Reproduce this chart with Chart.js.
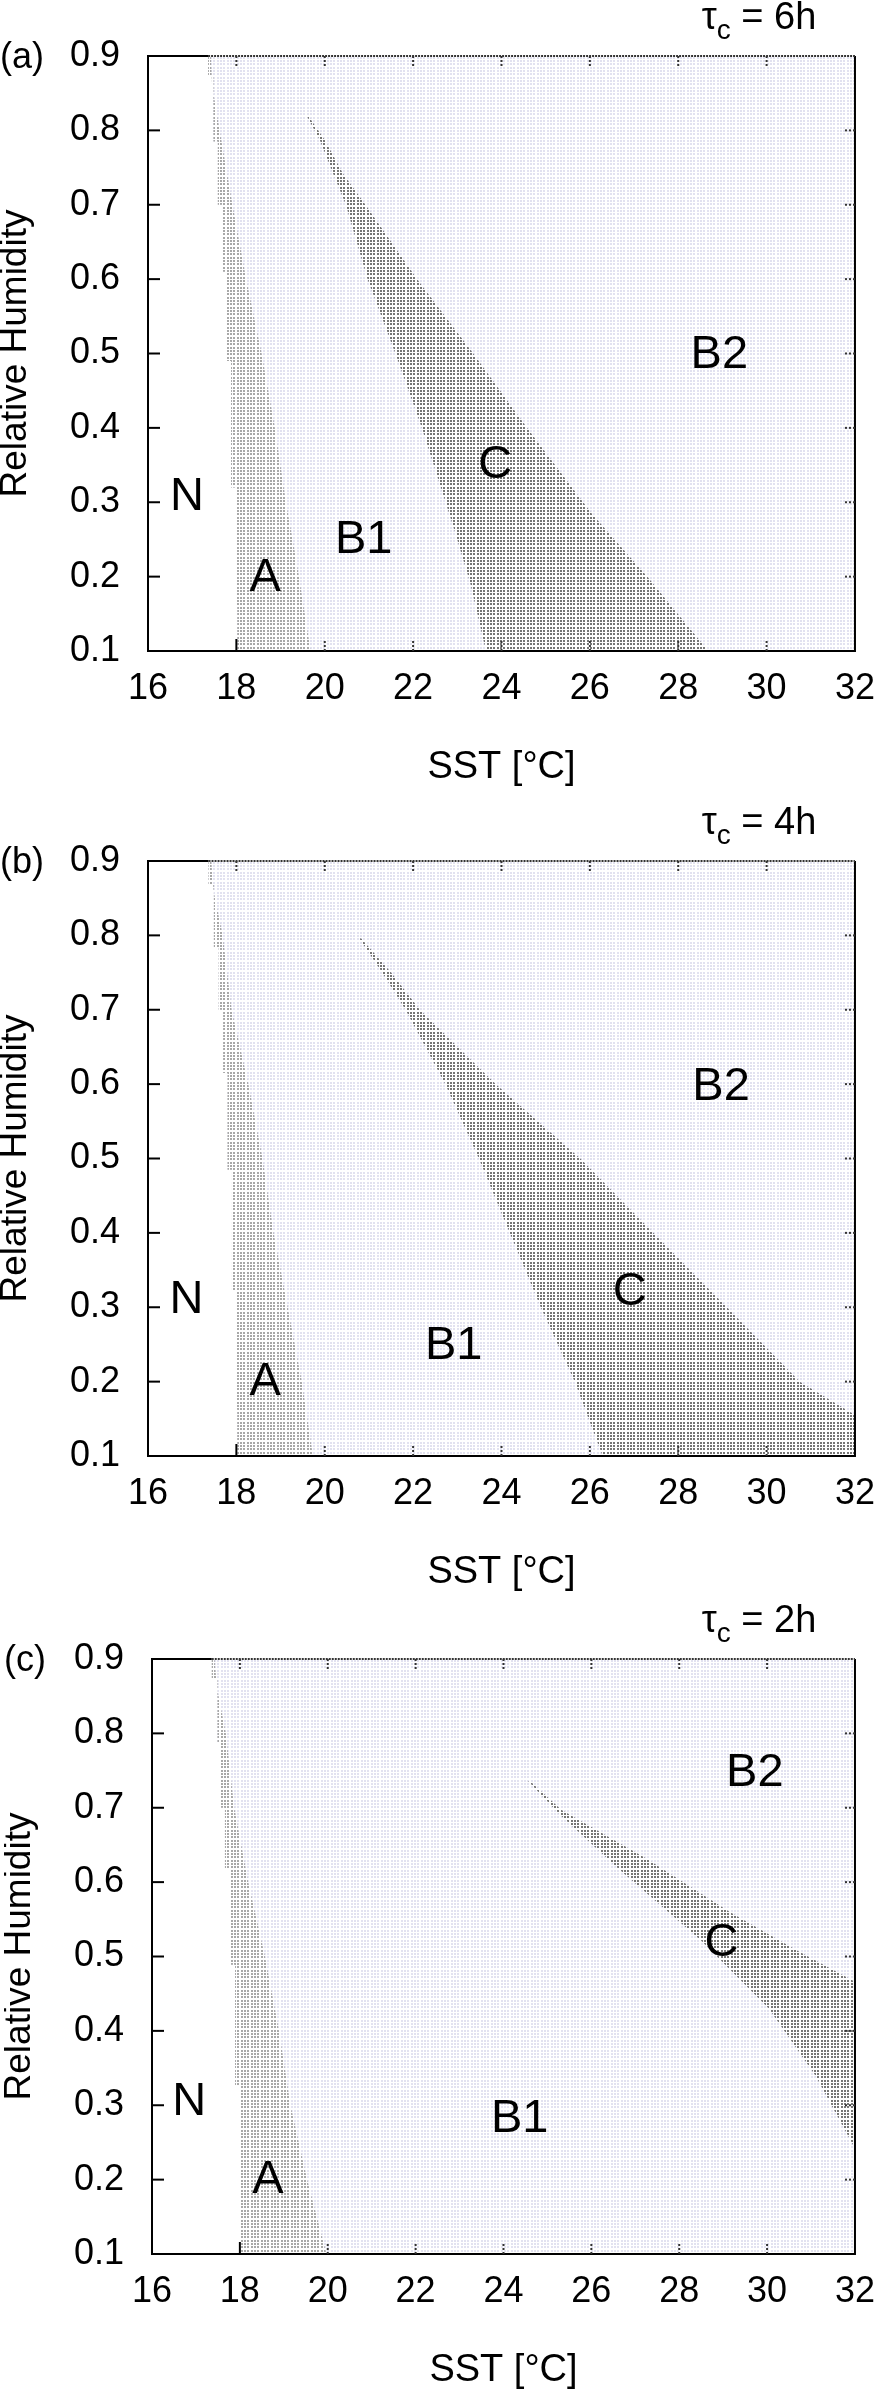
<!DOCTYPE html>
<html>
<head>
<meta charset="utf-8">
<title>Regime diagram SST vs relative humidity</title>
<script src="https://cdn.jsdelivr.net/npm/chart.js@4.4.1/dist/chart.umd.min.js"></script>
<style>
  html, body { margin: 0; padding: 0; background: #fff; }
  body { width: 891px; height: 2391px; position: relative; overflow: hidden; }
  canvas { position: absolute; display: block; }
  #chartA { left: 0; top: 0; }
  #chartB { left: 0; top: 805px; }
  #chartC { left: 4px; top: 1603px; }
</style>
</head>
<body>
<canvas id="chartA" width="891" height="787"></canvas>
<canvas id="chartB" width="891" height="787"></canvas>
<canvas id="chartC" width="887" height="787"></canvas>
<script>
// axis ticks
const xTicks = [16, 18, 20, 22, 24, 26, 28, 30, 32];
const yTicks = [0.1, 0.2, 0.3, 0.4, 0.5, 0.6, 0.7, 0.8, 0.9];
const regionNames = ['N', 'A', 'B1', 'C', 'B2'];

// (a) tau_c = 6h : region boundaries as [SST, RH], read top to bottom
const nEdge6 = [[17.36, 0.9], [17.36, 0.872], [17.48, 0.872], [17.48, 0.785], [17.58, 0.785], [17.58, 0.7],
  [17.68, 0.7], [17.68, 0.61], [17.78, 0.61], [17.78, 0.49], [17.88, 0.49], [17.88, 0.32],
  [17.97, 0.32], [17.97, 0.16], [18.02, 0.16], [18.02, 0.1]];
const aEdge6 = [[17.42, 0.9], [17.45, 0.86], [17.62, 0.8], [17.91, 0.7], [18.22, 0.6], [18.57, 0.5],
  [18.87, 0.4], [19.12, 0.3], [19.36, 0.22], [19.68, 0.1]];
const cLeft6 = [[19.59, 0.82], [19.89, 0.787], [20.19, 0.742], [20.48, 0.7], [20.97, 0.6], [21.6, 0.5],
  [22.2, 0.4], [22.95, 0.26], [23.3, 0.19], [23.65, 0.1]];
const cRight6 = [[19.62, 0.82], [20.0, 0.787], [20.41, 0.742], [20.92, 0.7], [22.09, 0.6], [23.36, 0.5],
  [24.58, 0.4], [26.04, 0.285], [27.3, 0.2], [28.68, 0.1]];
const labelPos6 = [[16.88, 0.307], [18.65, 0.198], [20.88, 0.249], [23.86, 0.35], [28.93, 0.498]];

// (b) tau_c = 4h
const nEdge4 = [[17.37, 0.9], [17.37, 0.869], [17.49, 0.869], [17.49, 0.784], [17.6, 0.784], [17.6, 0.7],
  [17.7, 0.7], [17.7, 0.615], [17.8, 0.615], [17.8, 0.485], [17.9, 0.485], [17.9, 0.322],
  [17.98, 0.322], [17.98, 0.163], [18.02, 0.163], [18.02, 0.1]];
const aEdge4 = [[17.43, 0.9], [17.48, 0.86], [17.69, 0.8], [17.89, 0.7], [18.27, 0.6], [18.59, 0.5],
  [18.84, 0.4], [19.16, 0.3], [19.48, 0.2], [19.73, 0.1]];
const cLeft4 = [[20.78, 0.796], [21.3, 0.75], [21.83, 0.7], [22.73, 0.6], [23.49, 0.5], [24.19, 0.4],
  [24.89, 0.3], [25.66, 0.2], [26.29, 0.1]];
const cRight4 = [[20.82, 0.796], [21.5, 0.75], [22.15, 0.7], [23.87, 0.6], [25.78, 0.5], [27.44, 0.4],
  [29.1, 0.3], [30.75, 0.2], [32, 0.155], [32, 0.1]];
const labelPos4 = [[16.87, 0.31], [18.65, 0.2], [22.92, 0.248], [26.9, 0.32], [28.97, 0.596]];

// (c) tau_c = 2h
const nEdge2 = [[17.36, 0.9], [17.36, 0.873], [17.49, 0.873], [17.49, 0.788], [17.57, 0.788], [17.57, 0.7],
  [17.66, 0.7], [17.66, 0.619], [17.78, 0.619], [17.78, 0.489], [17.89, 0.489], [17.89, 0.326],
  [18.0, 0.326], [18.0, 0.1]];
const aEdge2 = [[17.42, 0.9], [17.48, 0.86], [17.68, 0.8], [17.87, 0.7], [18.19, 0.6], [18.57, 0.5],
  [18.89, 0.4], [19.15, 0.3], [19.53, 0.2], [19.97, 0.1]];
const cLeft2 = [[24.56, 0.736], [25.3, 0.69], [26.6, 0.619], [28.51, 0.521], [30.04, 0.43],
  [31.1, 0.34], [32, 0.242]];
const cRight2 = [[24.6, 0.736], [25.32, 0.697], [27.24, 0.632], [29.15, 0.56], [30.68, 0.508],
  [32, 0.466], [32, 0.242]];
const labelPos2 = [[16.85, 0.304], [18.64, 0.2], [24.37, 0.281], [28.96, 0.518], [29.72, 0.746]];

const FONT = '"Liberation Sans", Arial, Helvetica, sans-serif';
Chart.defaults.font.family = FONT;
Chart.defaults.color = '#000';

// stipple fill, like the dotted grid of the original
function dots(color) {
  const c = document.createElement('canvas');
  c.width = 10;
  c.height = 10;
  const g = c.getContext('2d');
  g.fillStyle = '#fff';
  g.fillRect(0, 0, 10, 10);
  g.fillStyle = color;
  for (const i of [0, 3, 7]) {
    for (const j of [0, 3, 7]) g.fillRect(i, j, 2, 2);
  }
  return g.createPattern(c, 'repeat');
}
const patB = dots('rgb(226, 226, 240)');
const patA = dots('rgb(168, 168, 168)');
const patC = dots('rgb(118, 118, 118)');

const pts = (arr) => arr.map(([x, y]) => ({ x, y }));

function edge(label, data, fill, bg) {
  return {
    label,
    data: pts(data),
    fill,
    backgroundColor: bg || 'rgba(0,0,0,0)',
    borderColor: 'rgba(0,0,0,0)',
    borderWidth: 0,
    pointRadius: 0,
    pointHoverRadius: 0,
    tension: 0
  };
}

// frame, inward ticks and the text that sits on the plot
const decor = {
  id: 'decor',
  afterDraw(chart, args, opts) {
    const { ctx, chartArea: a } = chart;
    const x = chart.scales.x;
    const y = chart.scales.y;
    const xTop = x.getPixelForValue(opts.nEdge[0][0]);
    const xBottom = opts.nEdge[opts.nEdge.length - 1][0];
    ctx.save();

    ctx.lineWidth = 2;
    ctx.strokeStyle = '#000';
    ctx.beginPath();
    ctx.moveTo(xTop, a.top);
    ctx.lineTo(a.left, a.top);
    ctx.lineTo(a.left, a.bottom);
    ctx.lineTo(a.right, a.bottom);
    ctx.lineTo(a.right, a.top);
    ctx.stroke();
    ctx.setLineDash([2, 1]);
    ctx.strokeStyle = '#333';
    ctx.beginPath();
    ctx.moveTo(xTop, a.top);
    ctx.lineTo(a.right, a.top);
    ctx.stroke();

    const tl = 12;
    xTicks.slice(1, -1).forEach((v) => {
      const px = x.getPixelForValue(v);
      ctx.setLineDash(v <= xBottom ? [] : [2, 2]);
      ctx.strokeStyle = v <= xBottom ? '#000' : '#333';
      ctx.beginPath();
      ctx.moveTo(px, a.bottom);
      ctx.lineTo(px, a.bottom - tl);
      ctx.stroke();
      ctx.setLineDash([2, 2]);
      ctx.strokeStyle = '#333';
      ctx.beginPath();
      ctx.moveTo(px, a.top);
      ctx.lineTo(px, a.top + tl);
      ctx.stroke();
    });
    yTicks.slice(1, -1).forEach((v) => {
      const py = y.getPixelForValue(v);
      ctx.setLineDash([]);
      ctx.strokeStyle = '#000';
      ctx.beginPath();
      ctx.moveTo(a.left, py);
      ctx.lineTo(a.left + tl, py);
      ctx.stroke();
      ctx.setLineDash([2, 2]);
      ctx.strokeStyle = '#333';
      ctx.beginPath();
      ctx.moveTo(a.right, py);
      ctx.lineTo(a.right - tl, py);
      ctx.stroke();
    });
    ctx.setLineDash([]);

    ctx.fillStyle = '#000';
    ctx.textAlign = 'center';
    ctx.textBaseline = 'middle';
    ctx.font = '47px ' + FONT;
    regionNames.forEach((name, i) => {
      const [vx, vy] = opts.labelPos[i];
      ctx.fillText(name, x.getPixelForValue(vx), y.getPixelForValue(vy));
    });

    // panel letter
    ctx.textAlign = 'left';
    ctx.font = '36px ' + FONT;
    ctx.fillText(opts.letter, 0, a.top + 2);

    // tau_c = ..h, with subscript c
    ctx.textBaseline = 'alphabetic';
    const big = '38px ' + FONT;
    const small = '28px ' + FONT;
    const rest = ' = ' + opts.tau;
    ctx.font = big;
    const w1 = ctx.measureText('\u03c4').width;
    const w3 = ctx.measureText(rest).width;
    ctx.font = small;
    const w2 = ctx.measureText('c').width;
    const base = a.top - 27;
    let cx = a.right - 96 - (w1 + w2 + w3) / 2;
    ctx.font = big;
    ctx.fillText('\u03c4', cx, base);
    cx += w1;
    ctx.font = small;
    ctx.fillText('c', cx, base + 10);
    cx += w2;
    ctx.font = big;
    ctx.fillText(rest, cx, base);
    ctx.restore();
  }
};

function makePanel(id, letter, tau, nEdge, aEdge, cLeft, cRight, labelPos) {
  const canvas = document.getElementById(id);
  return new Chart(canvas, {
    type: 'line',
    data: {
      datasets: [
        edge('C upper edge', cRight, false),
        edge('C', cLeft, 0, patC),
        edge('A upper edge', aEdge, false),
        edge('A', nEdge, 2, patA),
        edge('B', nEdge, { value: 32 }, patB)
      ]
    },
    options: {
      indexAxis: 'y',
      responsive: false,
      devicePixelRatio: 1,
      animation: false,
      events: [],
      layout: { padding: { top: 56, right: canvas.width - 862, bottom: 0, left: 0 } },
      plugins: {
        legend: { display: false },
        tooltip: { enabled: false },
        decor: { letter, tau, nEdge, labelPos }
      },
      scales: {
        x: {
          type: 'linear',
          position: 'bottom',
          min: 16,
          max: 32,
          afterBuildTicks: (s) => { s.ticks = xTicks.map((value) => ({ value })); },
          afterFit: (s) => { s.height = 136; },
          grid: { display: false, drawTicks: false, tickLength: 0 },
          border: { display: false },
          ticks: {
            autoSkip: false,
            maxRotation: 0,
            padding: 16,
            font: { size: 36 },
            color: '#000',
            callback: (v) => String(v)
          },
          title: {
            display: true,
            text: 'SST [\u00b0C]',
            font: { size: 38, lineHeight: 1 },
            color: '#000',
            padding: { top: 0, bottom: 0 }
          }
        },
        y: {
          type: 'linear',
          position: 'left',
          min: 0.1,
          max: 0.9,
          afterBuildTicks: (s) => { s.ticks = yTicks.map((value) => ({ value })); },
          afterFit: (s) => { s.width = 148; },
          grid: { display: false, drawTicks: false, tickLength: 0 },
          border: { display: false },
          ticks: {
            autoSkip: false,
            padding: 28,
            font: { size: 36 },
            color: '#000',
            callback: (v) => Number(v).toFixed(1)
          },
          title: {
            display: true,
            text: 'Relative Humidity',
            font: { size: 37, lineHeight: 1 },
            color: '#000',
            padding: { top: -3, bottom: 0 }
          }
        }
      }
    },
    plugins: [decor]
  });
}

makePanel('chartA', '(a)', '6h', nEdge6, aEdge6, cLeft6, cRight6, labelPos6);
makePanel('chartB', '(b)', '4h', nEdge4, aEdge4, cLeft4, cRight4, labelPos4);
makePanel('chartC', '(c)', '2h', nEdge2, aEdge2, cLeft2, cRight2, labelPos2);
</script>
</body>
</html>
